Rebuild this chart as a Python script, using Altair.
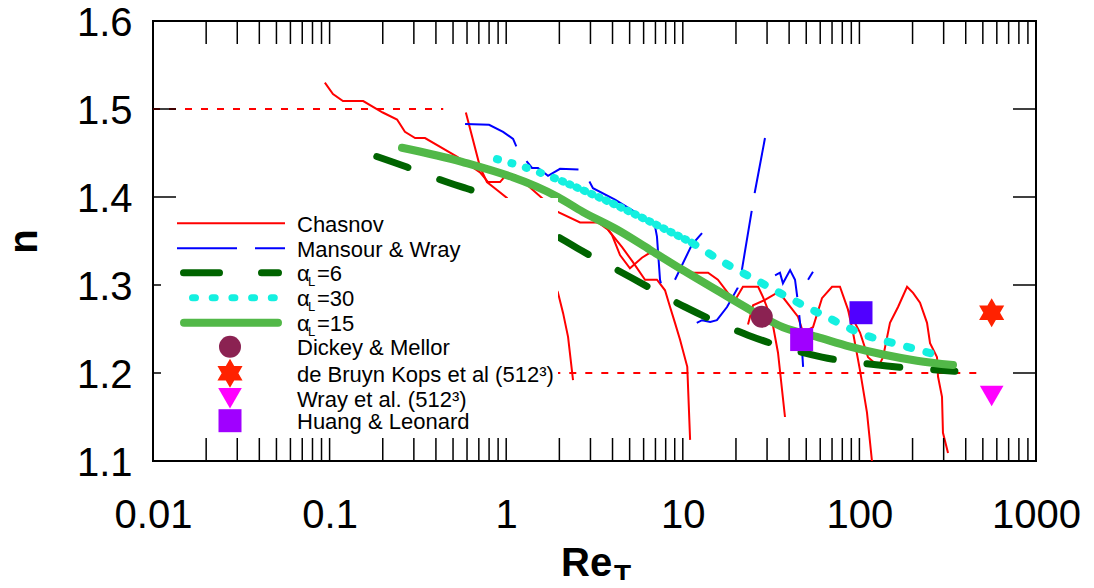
import altair as alt
import pandas as pd

# ---------------- axes ----------------
X_DOMAIN = [0.01, 1000]
Y_DOMAIN = [1.1, 1.6]
x_tick_labels = [0.01, 0.1, 1, 10, 100, 1000]
y_tick_labels = [1.1, 1.2, 1.3, 1.4, 1.5, 1.6]
y_inner_ticks = [1.2, 1.3, 1.4, 1.5]
x_inner_ticks = [k * d for d in [0.01, 0.1, 1, 10, 100] for k in range(1, 10)] + [1000]

# ---------------- reference levels ----------------
ref15_x = [0.01, 0.44]
ref15_y = [1.5, 1.5]
ref12_x = [1.5, 463]
ref12_y = [1.2, 1.2]

# ---------------- Chasnov (several runs) ----------------
chasnov_a_x = [0.094, 0.1045, 0.119, 0.155, 0.200, 0.241, 0.267, 0.305, 0.347, 0.526,
               0.711, 0.789, 0.923, 0.998, 1.12, 1.31, 1.96, 2.62, 3.31, 3.77]
chasnov_a_y = [1.530, 1.517, 1.509, 1.509, 1.496, 1.488, 1.474, 1.467, 1.467, 1.446,
               1.428, 1.417, 1.417, 1.425, 1.425, 1.414, 1.383, 1.371, 1.371, 1.363]
chasnov_b_x = [0.591, 0.711, 0.778, 0.887, 1.01, 1.96, 2.10, 2.24, 2.39]
chasnov_b_y = [1.496, 1.434, 1.417, 1.408, 1.399, 1.292, 1.268, 1.241, 1.192]
chasnov_c1_x = [3.77, 3.97, 4.41, 5.02, 5.87, 6.69, 8.80, 9.89, 13.9, 15.8, 18.0, 19.8,
                21.9, 26.7, 28.5, 32.0, 34.6, 37.9]
chasnov_c1_y = [1.363, 1.357, 1.334, 1.319, 1.331, 1.338, 1.321, 1.314, 1.314, 1.306, 1.291, 1.283,
                1.298, 1.298, 1.286, 1.260, 1.223, 1.150]
chasnov_c2_x = [3.77, 4.53, 5.22, 6.11, 7.14, 7.93, 8.47, 9.03, 9.64, 10.6, 11.0]
chasnov_c2_y = [1.363, 1.343, 1.326, 1.306, 1.306, 1.294, 1.275, 1.257, 1.238, 1.207, 1.124]
chasnov_d_x = [23.4, 25.0, 29.2, 34.1, 36.9, 44.9, 48.0, 54.6, 61.4, 70.0, 77.6, 86.2,
               92.0, 100.8, 110.4, 117.8]
chasnov_d_y = [1.255, 1.277, 1.283, 1.291, 1.286, 1.264, 1.246, 1.252, 1.285, 1.298, 1.298, 1.272,
               1.246, 1.203, 1.155, 1.100]
chasnov_e_x = [86.2, 100.8, 111.9, 122.5, 130.9, 136.1, 149.0, 165.5, 186.2, 201.3, 220.4,
               241.5, 251.2, 275.1, 278.7, 293.6, 297.3, 317.6]
chasnov_e_y = [1.272, 1.246, 1.218, 1.211, 1.211, 1.218, 1.257, 1.275, 1.298, 1.291, 1.280,
               1.257, 1.234, 1.218, 1.196, 1.173, 1.132, 1.109]

# ---------------- Mansour & Wray ----------------
mansour_1_x = [0.585, 0.800, 0.960, 1.094, 1.167, 1.400, 1.514, 1.725, 2.018, 2.723, 3.10,
               4.13, 6.11, 6.96, 7.14, 7.43, 7.73]
mansour_1_y = [1.483, 1.482, 1.474, 1.466, 1.453, 1.433, 1.433, 1.424, 1.432, 1.431, 1.410,
               1.397, 1.376, 1.367, 1.355, 1.306, 1.292]
mansour_2_x = [9.03, 11.27, 12.85]
mansour_2_y = [1.306, 1.346, 1.359]
mansour_3_x = [12.0, 12.85, 14.3, 15.6, 17.8, 20.5, 21.6, 25.6, 29.2]
mansour_3_y = [1.257, 1.260, 1.258, 1.260, 1.275, 1.297, 1.317, 1.406, 1.467]
mansour_4_x = [33.3, 35.5, 36.9, 40.5, 43.2, 44.9, 46.7, 48.0]
mansour_4_y = [1.311, 1.314, 1.302, 1.317, 1.306, 1.280, 1.246, 1.207]
mansour_5_x = [51.2, 54.6]
mansour_5_y = [1.306, 1.315]

# ---------------- model curves ----------------
alpha6_x = [0.185, 0.274, 0.432, 0.832, 1.96, 2.62, 5.15, 10.3, 23.4, 61.4, 143.3, 347.5]
alpha6_y = [1.446, 1.434, 1.419, 1.399, 1.355, 1.340, 1.308, 1.275, 1.243, 1.218, 1.208, 1.202]
alpha30_x = [0.887, 1.31, 2.07, 3.87, 6.52, 11.27, 17.3, 28.1, 42.1, 66.4, 104.7, 169.8, 293.6]
alpha30_y = [1.443, 1.433, 1.418, 1.394, 1.372, 1.348, 1.325, 1.302, 1.283, 1.263, 1.244, 1.232, 1.219]
alpha15_x = [0.257, 0.562, 1.96, 2.72, 4.24, 6.52, 10.0, 15.6, 24.0, 36.9, 57.5, 88.5, 136.1, 211.8, 338.8]
alpha15_y = [1.456, 1.440, 1.400, 1.383, 1.363, 1.340, 1.317, 1.294, 1.272, 1.252, 1.241, 1.230, 1.221, 1.214, 1.209]

# ---------------- single points ----------------
dickey_x, dickey_y = [28.0], [1.264]
kops_x, kops_y = [561.0], [1.2685]
wray_x, wray_y = [561.0], [1.174]
huang_x, huang_y = [47.1, 102.1], [1.238, 1.2685]

legend_labels = ["Chasnov", "Mansour & Wray", "=6", "=30", "=15",
                 "Dickey  & Mellor", "de Bruyn Kops  et al (512³)", "Wray  et al. (512³)",
                 "Huang & Leonard"]

# ---------------- build ----------------
W, H = 883, 440
FONT = "Liberation Sans"
xs = alt.Scale(type="log", domain=X_DOMAIN, nice=False)
ys = alt.Scale(domain=Y_DOMAIN, nice=False, zero=False)

XAXIS = alt.Axis(values=x_tick_labels, format="~g", labelFont=FONT, labelFontSize=40,
                 labelColor="black", ticks=False, domain=False, grid=False, labelPadding=34,
                 labelFlush=False, labelOverlap=False, labelBound=False, title=None)
YAXIS = alt.Axis(values=y_tick_labels, format=".1f", labelFont=FONT, labelFontSize=40,
                 labelColor="black", ticks=False, domain=False, grid=False, labelPadding=21,
                 labelFlush=False, labelOverlap=False, labelBound=False, labelOffset=2, title=None)


def segs(d):
    rows = []
    for name, (xx, yy) in d.items():
        for i, (a, b) in enumerate(zip(xx, yy)):
            rows.append({"seg": name, "i": i, "x": a, "y": b})
    return pd.DataFrame(rows)


X = alt.X("x:Q", scale=xs, axis=XAXIS)
Y = alt.Y("y:Q", scale=ys, axis=YAXIS)

ref_df = segs({"r15": (ref15_x, ref15_y), "r12": (ref12_x, ref12_y)})
ref = alt.Chart(ref_df).mark_line(color="#FF0000", strokeWidth=2, strokeDash=[7, 9], clip=True).encode(
    x=X, y=Y, detail="seg:N", order="i:Q")

chas_df = segs({"a": (chasnov_a_x, chasnov_a_y), "b": (chasnov_b_x, chasnov_b_y),
                "c1": (chasnov_c1_x, chasnov_c1_y), "c2": (chasnov_c2_x, chasnov_c2_y),
                "d": (chasnov_d_x, chasnov_d_y), "e": (chasnov_e_x, chasnov_e_y)})
chas = alt.Chart(chas_df).mark_line(color="#FF0000", strokeWidth=2, clip=True).encode(
    x=X, y=Y, detail="seg:N", order="i:Q")

mans_df = segs({"1": (mansour_1_x, mansour_1_y), "2": (mansour_2_x, mansour_2_y),
                "3": (mansour_3_x, mansour_3_y), "4": (mansour_4_x, mansour_4_y),
                "5": (mansour_5_x, mansour_5_y)})
mans = alt.Chart(mans_df).mark_line(color="#0000FF", strokeWidth=2, strokeDash=[60, 18], clip=True).encode(
    x=X, y=Y, detail="seg:N", order="i:Q")

a6 = alt.Chart(segs({"a6": (alpha6_x, alpha6_y)})).mark_line(
    color="#006400", strokeWidth=7, strokeDash=[33, 34], strokeCap="round",
    interpolate="monotone", clip=True).encode(x=X, y=Y, order="i:Q")

a30_df = segs({"a30": (alpha30_x, alpha30_y)})
a30_base = alt.Chart(a30_df).encode(x=X, y=Y, order="i:Q")
a30a = a30_base.transform_filter(alt.datum.x <= 2.07).mark_line(
    color="#14F0E0", strokeWidth=8, strokeDash=[1, 14], strokeCap="round", interpolate="monotone")
a30b = a30_base.transform_filter((alt.datum.x >= 2.07) & (alt.datum.x <= 11.27)).mark_line(
    color="#14F0E0", strokeWidth=8, strokeDash=[1, 7], strokeCap="round", interpolate="monotone")
a30c = a30_base.transform_filter(alt.datum.x >= 11.27).mark_line(
    color="#14F0E0", strokeWidth=8, strokeDash=[4, 16], strokeCap="round", interpolate="monotone")

a15 = alt.Chart(segs({"a15": (alpha15_x, alpha15_y)})).mark_line(
    color="#52B848", strokeWidth=8, strokeCap="round", interpolate="monotone", clip=True).encode(
    x=X, y=Y, order="i:Q")

HEX = ("M0,-1L0.289,-0.5L0.866,-0.5L0.577,0L0.866,0.5L0.289,0.5L0,1L-0.289,0.5"
       "L-0.866,0.5L-0.577,0L-0.866,-0.5L-0.289,-0.5Z")


def pts(xx, yy):
    return pd.DataFrame({"x": xx, "y": yy})


p_dm = alt.Chart(pts(dickey_x, dickey_y)).mark_point(
    shape="circle", filled=True, size=484, color="#8B2252", opacity=1).encode(x=X, y=Y)
p_kops = alt.Chart(pts(kops_x, kops_y)).mark_point(
    shape=HEX, filled=True, size=841, color="#FF2200", opacity=1).encode(x=X, y=Y)
p_wray = alt.Chart(pts(wray_x, wray_y)).mark_point(
    shape="triangle-down", filled=True, size=560, color="#FF00FF", opacity=1).encode(x=X, y=Y)
p_hl = alt.Chart(pts(huang_x, huang_y)).mark_point(
    shape="square", filled=True, size=529, opacity=1).encode(
    x=X, y=Y, color=alt.condition(alt.datum.x > 80, alt.value("#5000FF"), alt.value("#A000FF")))

# inner ticks
xt = pd.DataFrame({"x": x_inner_ticks})
yt = pd.DataFrame({"y": y_inner_ticks})
TL = 23
tick_b = alt.Chart(xt).mark_rule(color="black", strokeWidth=1.5).encode(
    x=X, y=alt.value(H), y2=alt.value(H - TL))
tick_t = alt.Chart(xt).mark_rule(color="black", strokeWidth=1.5).encode(
    x=X, y=alt.value(0), y2=alt.value(TL))
tick_l = alt.Chart(yt).mark_rule(color="black", strokeWidth=1.5).encode(
    y=Y, x=alt.value(0), x2=alt.value(TL))
tick_r = alt.Chart(yt).mark_rule(color="black", strokeWidth=1.5).encode(
    y=Y, x=alt.value(W - TL), x2=alt.value(W))

# legend
one = pd.DataFrame({"k": [0]})
rows_y = [202.3, 227.3, 251.7, 276.7, 301.7, 325.7, 352.3, 377.3, 399.7]
TX = 144
SX = 77
FS = 22


def lrule(x1, x2, yv, **kw):
    return alt.Chart(one).mark_rule(**kw).encode(x=alt.value(x1), x2=alt.value(x2), y=alt.value(yv))


def ltext(txt, xv, yv, size=FS, bold=False):
    return alt.Chart(one).mark_text(
        text=txt, align="left", baseline="alphabetic", font=FONT, fontSize=size,
        fontWeight="bold" if bold else "normal", color="black").encode(x=alt.value(xv), y=alt.value(yv))


def lsym(shape, size, color, yv):
    return alt.Chart(one).mark_point(shape=shape, filled=True, size=size, color=color, opacity=1).encode(
        x=alt.value(SX), y=alt.value(yv))


box = alt.Chart(one).mark_rect(color="white").encode(
    x=alt.value(8), x2=alt.value(405), y=alt.value(177), y2=alt.value(415))

leg = [box,
       lrule(24, 132, rows_y[0], color="#FF0000", strokeWidth=2),
       lrule(24, 132, rows_y[1], color="#0000FF", strokeWidth=2, strokeDash=[60, 18]),
       lrule(30.5, 125.5, rows_y[2], color="#006400", strokeWidth=7, strokeDash=[36, 42], strokeCap="round"),
       lrule(39.5, 122, rows_y[3], color="#14F0E0", strokeWidth=7, strokeDash=[3, 16.7], strokeCap="round"),
       lrule(31, 125, rows_y[4], color="#52B848", strokeWidth=8, strokeCap="round"),
       lsym("circle", 484, "#8B2252", rows_y[5]),
       lsym(HEX, 841, "#FF2200", rows_y[6]),
       lsym("triangle-down", 560, "#FF00FF", rows_y[7]),
       lsym("square", 529, "#A000FF", rows_y[8])]
for r, lab in enumerate(legend_labels):
    yb = rows_y[r] + 8.5
    if lab.startswith("="):
        leg.append(ltext("α", TX, yb))
        leg.append(ltext("L", TX + 11, yb + 5, size=13))
        leg.append(ltext(lab, TX + 20, yb))
    else:
        leg.append(ltext(lab, TX, yb))

titles = [
    ltext("Re", 408, 555, size=40, bold=True),
    ltext("T", 461, 563, size=28, bold=True),
    alt.Chart(one).mark_text(text="n", angle=270, align="center", baseline="alphabetic",
                             font=FONT, fontSize=40, fontWeight="bold", color="black").encode(
        x=alt.value(-116), y=alt.value(220.5)),
]

chart = alt.layer(
    ref, chas, mans, a6, a30a, a30b, a30c, a15, p_dm, p_kops, p_wray, p_hl,
    tick_b, tick_t, tick_l, tick_r, *leg, *titles
).properties(
    width=W, height=H,
    padding={"left": 145, "top": 13, "right": 48, "bottom": 119},
    autosize=alt.AutoSizeParams(type="none"),
    background="white",
).configure_view(stroke="black", strokeWidth=2)

chart.save("out.html", embed_options={"renderer": "svg", "actions": False})
